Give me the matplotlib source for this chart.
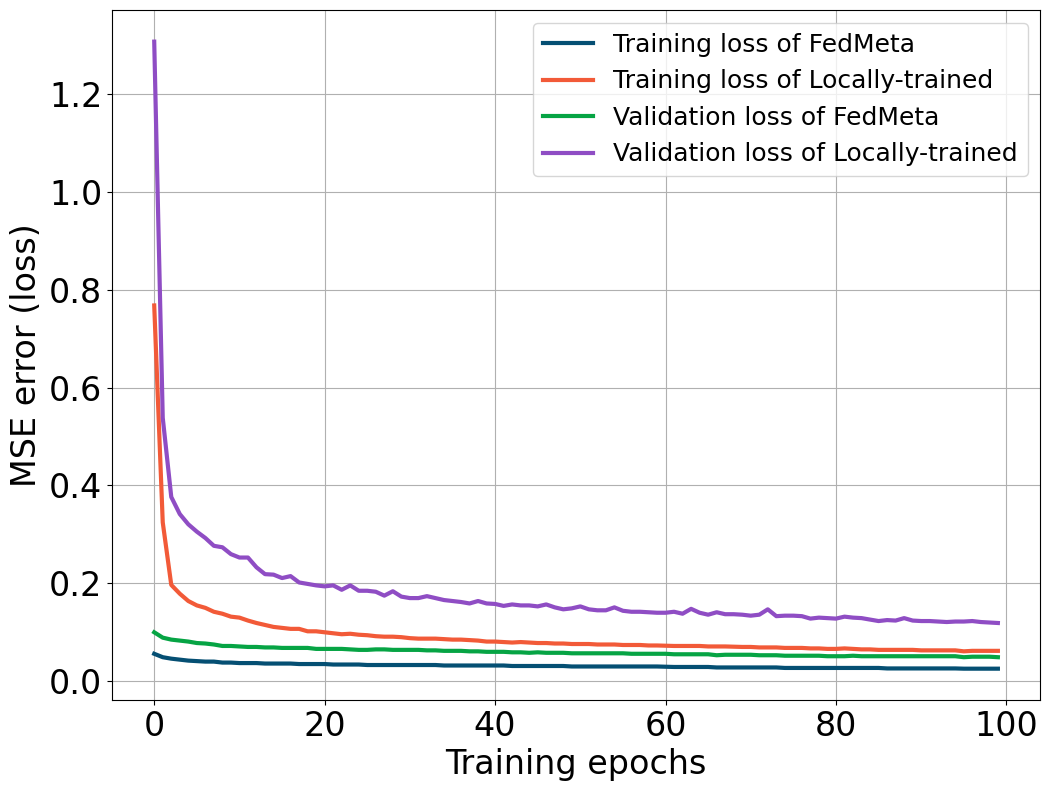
import numpy as np
import matplotlib
matplotlib.use("Agg")
import matplotlib.pyplot as plt

# loss curves, epochs 0..99
train_fedmeta = [
    0.055, 0.048, 0.045, 0.043, 0.041, 0.040, 0.039, 0.039, 0.037, 0.037,
    0.036, 0.036, 0.036, 0.035, 0.035, 0.035, 0.035, 0.034, 0.034, 0.034,
    0.034, 0.033, 0.033, 0.033, 0.033, 0.032, 0.032, 0.032, 0.032, 0.032,
    0.032, 0.032, 0.032, 0.032, 0.031, 0.031, 0.031, 0.031, 0.031, 0.031,
    0.031, 0.031, 0.030, 0.030, 0.030, 0.030, 0.030, 0.030, 0.030, 0.029,
    0.029, 0.029, 0.029, 0.029, 0.029, 0.029, 0.029, 0.029, 0.029, 0.029,
    0.0285, 0.028, 0.028, 0.028, 0.028, 0.028, 0.027, 0.027, 0.027, 0.027,
    0.027, 0.027, 0.027, 0.027, 0.026, 0.026, 0.026, 0.026, 0.026, 0.026,
    0.026, 0.026, 0.026, 0.026, 0.026, 0.026, 0.025, 0.025, 0.025, 0.025,
    0.025, 0.025, 0.025, 0.025, 0.025, 0.0245, 0.0245, 0.0245, 0.0245, 0.0245,
]
train_local = [
    0.768, 0.324, 0.196, 0.178, 0.163, 0.154, 0.149, 0.141, 0.137, 0.131,
    0.129, 0.123, 0.118, 0.114, 0.110, 0.108, 0.106, 0.106, 0.101, 0.101,
    0.099, 0.097, 0.095, 0.096, 0.094, 0.093, 0.091, 0.090, 0.090, 0.089,
    0.087, 0.086, 0.086, 0.086, 0.085, 0.084, 0.084, 0.083, 0.082, 0.080,
    0.080, 0.079, 0.078, 0.079, 0.078, 0.077, 0.077, 0.076, 0.076, 0.075,
    0.075, 0.075, 0.074, 0.074, 0.074, 0.073, 0.073, 0.073, 0.072, 0.072,
    0.0715, 0.071, 0.071, 0.071, 0.071, 0.070, 0.070, 0.070, 0.0695, 0.069,
    0.069, 0.068, 0.068, 0.068, 0.067, 0.067, 0.067, 0.066, 0.066, 0.065,
    0.065, 0.066, 0.065, 0.064, 0.064, 0.063, 0.063, 0.063, 0.063, 0.063,
    0.062, 0.062, 0.062, 0.062, 0.062, 0.060, 0.061, 0.061, 0.061, 0.061,
]
val_fedmeta = [
    0.099, 0.088, 0.084, 0.082, 0.080, 0.077, 0.076, 0.074, 0.071, 0.071,
    0.070, 0.069, 0.069, 0.068, 0.068, 0.067, 0.067, 0.067, 0.067, 0.065,
    0.065, 0.065, 0.065, 0.064, 0.063, 0.063, 0.064, 0.064, 0.063, 0.063,
    0.063, 0.063, 0.062, 0.062, 0.061, 0.061, 0.061, 0.060, 0.060, 0.059,
    0.059, 0.059, 0.058, 0.058, 0.057, 0.058, 0.057, 0.057, 0.057, 0.056,
    0.056, 0.056, 0.056, 0.056, 0.056, 0.056, 0.055, 0.055, 0.055, 0.055,
    0.055, 0.054, 0.054, 0.054, 0.054, 0.054, 0.052, 0.053, 0.053, 0.053,
    0.053, 0.052, 0.052, 0.052, 0.051, 0.051, 0.051, 0.051, 0.051, 0.050,
    0.050, 0.050, 0.051, 0.050, 0.050, 0.050, 0.050, 0.050, 0.050, 0.050,
    0.050, 0.050, 0.050, 0.050, 0.050, 0.048, 0.049, 0.049, 0.049, 0.048,
]
val_local = [
    1.308, 0.538, 0.376, 0.341, 0.320, 0.305, 0.292, 0.276, 0.273, 0.259,
    0.252, 0.252, 0.232, 0.218, 0.217, 0.210, 0.214, 0.201, 0.198, 0.195,
    0.193, 0.195, 0.186, 0.195, 0.184, 0.184, 0.182, 0.174, 0.183, 0.172,
    0.169, 0.169, 0.173, 0.169, 0.165, 0.163, 0.161, 0.158, 0.163, 0.158,
    0.157, 0.153, 0.156, 0.154, 0.154, 0.152, 0.156, 0.150, 0.146, 0.148,
    0.152, 0.146, 0.144, 0.144, 0.150, 0.143, 0.141, 0.141, 0.140, 0.139,
    0.139, 0.141, 0.137, 0.147, 0.139, 0.135, 0.140, 0.136, 0.136, 0.135,
    0.133, 0.135, 0.146, 0.132, 0.133, 0.133, 0.132, 0.127, 0.129, 0.128,
    0.127, 0.131, 0.129, 0.128, 0.125, 0.122, 0.124, 0.123, 0.128, 0.123,
    0.122, 0.122, 0.121, 0.120, 0.121, 0.121, 0.122, 0.120, 0.119, 0.118,
]
labels = ["Training loss of FedMeta", "Training loss of Locally-trained",
          "Validation loss of FedMeta", "Validation loss of Locally-trained"]
colores = ["#054f73", "#f25a38", "#06a444", "#8f4dc4"]

fig = plt.figure(figsize=(10.51, 7.91), dpi=100)
ax = fig.add_axes([0.1066, 0.115, 0.883, 0.872])
for serie, lab, c in zip([train_fedmeta, train_local, val_fedmeta, val_local], labels, colores):
    ax.plot(np.arange(len(serie)), serie, color=c, linewidth=3, label=lab)

ax.set_xlabel("Training epochs", fontsize=24)
ax.set_ylabel("MSE error (loss)", fontsize=24)
ax.tick_params(labelsize=24)
ax.grid(True)
ax.legend(loc="upper right", fontsize=18)
fig.savefig("out.png", dpi=100)
